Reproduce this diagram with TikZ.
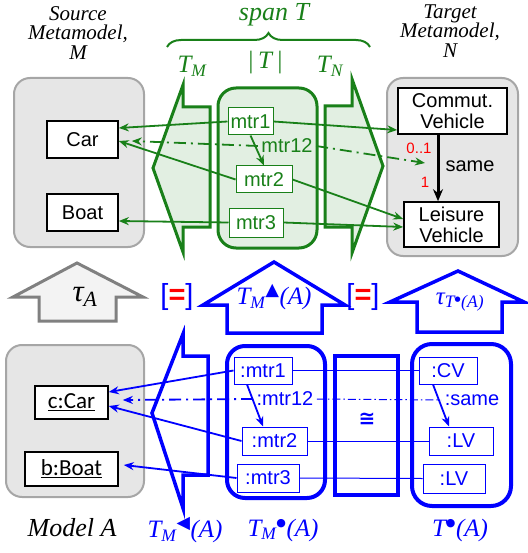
\documentclass[tikz,border=0pt]{standalone}
\usepackage{fontspec}
\setmainfont{Liberation Serif}
\setsansfont{Liberation Sans}
\newfontfamily\calibfont{Carlito}
\newfontfamily\dejavu{DejaVu Sans}
\usetikzlibrary{arrows.meta,decorations.pathreplacing}

\definecolor{tgreen}{RGB}{25,128,25}
\definecolor{tgreenfill}{RGB}{226,239,226}
\definecolor{mmfill}{RGB}{230,230,230}
\definecolor{mmline}{RGB}{166,166,166}
\definecolor{tblue}{RGB}{0,0,255}
\definecolor{upgrey}{RGB}{128,128,128}
\definecolor{upfill}{RGB}{243,243,243}

\newcommand{\sansfs}{\sffamily\fontsize{20}{21}\selectfont}
\newcommand{\multfs}{\sffamily\fontsize{15}{15}\selectfont}
\newcommand{\calibfs}{\calibfont\fontsize{23}{23}\selectfont}
\newcommand{\headfs}{\itshape\fontsize{21}{19.5}\selectfont}
\newcommand{\bigitfs}{\itshape\fontsize{26}{26}\selectfont}
\newcommand{\lblfs}{\itshape\fontsize{25}{26}\selectfont}
\newcommand{\symb}[1]{{\dejavu\upshape #1}}
\newcommand{\bdot}[1]{{\dejavu\upshape\fontsize{#1}{#1}\selectfont ●}}
\newcommand{\eqbr}{{\color{tblue}[}{\color{red}\bfseries=}{\color{tblue}]}}

\begin{document}
\begin{tikzpicture}[x=1pt, y=-1pt, >={Stealth[length=10pt,width=8pt]},
  mm/.style={draw=mmline, fill=mmfill, line width=2, rounded corners=16},
  cls/.style={draw, line width=1.6, fill=white, inner sep=0, font=\sansfs, align=center},
  obj/.style={draw, line width=1.6, fill=white, inner sep=0, font=\calibfs},
  gmap/.style={draw=tgreen, line width=1, fill=white, text=tgreen, inner sep=0, font=\sansfs},
  bmap/.style={draw=tblue, line width=1, fill=white, text=tblue, inner sep=0, font=\sansfs},
  glink/.style={tgreen, line width=1.8, ->},
  blink/.style={tblue, line width=1.8, ->},
  bthin/.style={tblue, line width=1},
  dashdot/.style={dash pattern=on 12pt off 5pt on 2pt off 5pt},
  garrow/.style={draw=tgreen, fill=tgreenfill, line width=3},
  barrow/.style={draw=tblue, line width=3.5},
  lbl/.style={font=\lblfs},
  eqsign/.style={font=\sffamily\fontsize{29}{29}\selectfont}]
  \useasboundingbox (0,0) rectangle (527,553);

  % Headings
  \node[font=\headfs, align=center] (srcmm) at (78,33) {Source\\Metamodel,\\M};
  \node[font=\headfs, align=center] (tgtmm) at (450,31) {Target\\Metamodel,\\N};
  \node[tgreen, font=\bigitfs] (span) at (274,15) {span T};
  \draw[tgreen, line width=2, decorate, decoration={brace, amplitude=14pt}] (167,47) -- (370,47);
  \node[tgreen, lbl] (tm) at (192,66) {T\textsubscript{M}};
  \node[tgreen, lbl] (tt) at (265,63) {|\,T\,|};
  \node[tgreen, lbl] (tn) at (330,66) {T\textsubscript{N}};

  % Metamodels and span
  \draw[mm] (14,78) rectangle (144,247);
  \draw[mm] (387,78) rectangle (518,256);
  \draw[garrow] (183,85) -- (183,107) -- (210,107) -- (210,227) -- (183,227) -- (183,252) -- (153,168) -- cycle;
  \draw[garrow] (325,106) -- (352,106) -- (352,79) -- (383,166) -- (352,253) -- (352,227) -- (325,227) -- cycle;
  \draw[draw=tgreen, fill=tgreenfill, line width=3, rounded corners=18] (218,88) rectangle (317,248);

  \node[cls, minimum width=71pt, minimum height=37pt] (car) at (82.5,139.5) {Car};
  \node[cls, minimum width=71pt, minimum height=37pt] (boat) at (82.5,212.5) {Boat};
  \node[cls, minimum width=109pt, minimum height=46pt] (cv) at (452.5,111) {Commut.\\Vehicle};
  \node[cls, minimum width=95pt, minimum height=45pt] (lv) at (451.5,224.5) {Leisure\\Vehicle};
  \node[gmap, minimum width=45pt, minimum height=27pt] (mtr1) at (250.5,121.5) {mtr1};
  \node[gmap, minimum width=56pt, minimum height=27pt] (mtr2) at (264,179.5) {mtr2};
  \node[gmap, minimum width=54pt, minimum height=29pt] (mtr3) at (256,222.5) {mtr3};
  \node[text=tgreen, font=\sansfs] (mtr12) at (287,146) {mtr12};

  % same association
  \coordinate (s1) at ([xshift=-14.5pt]cv.south);
  \coordinate (s2) at ([xshift=-13.5pt]lv.north);
  \coordinate (smid) at (438,163);
  \draw[line width=3, -{Stealth[length=12pt,width=10pt]}] (s1) -- (s2);
  \node[font=\sansfs, anchor=west] (same) at (442,166) {same};
  \node[red, font=\multfs] (m01) at (419,148) {0..1};
  \node[red, font=\multfs] (m1) at (425,182) {1};

  % Mappings
  \draw[glink] (mtr1.west) -- ([yshift=11.5pt]car.east);
  \draw[glink] (mtr1.east) -- ([yshift=-19pt]cv.west);
  \draw[glink] (mtr2.west) -- ([yshift=-1.5pt]car.east);
  \draw[glink] (mtr2.east) -- ([yshift=5.5pt]lv.west);
  \draw[glink] (mtr3.west) -- ([yshift=-8.5pt]boat.east);
  \draw[glink] (mtr3.east) -- ([yshift=-2.5pt]lv.west);
  \draw[glink] (mtr1.south) -- (mtr2.north);
  \draw[glink, dashdot] (mtr12.west) -- ([xshift=13pt,yshift=-1.5pt]car.east);
  \draw[glink, dashdot] (mtr12.east) -- ([xshift=-13pt]smid);

  % Middle row
  \draw[draw=upgrey, fill=upfill, line width=3] (77,263) -- (143,297) -- (116,297) -- (116,321) -- (39,321) -- (39,297) -- (13,297) -- cycle;
  \node[font=\itshape\fontsize{31}{31}\selectfont] (tauA) at (85,297) {τ\textsubscript{A}};
  \node[eqsign] (eq1) at (177,297) {\eqbr};
  \draw[barrow] (274,262) -- (345,305) -- (322,305) -- (322,333) -- (227,333) -- (227,305) -- (203,305) -- cycle;
  \node[tblue, lbl] (tmup) at (274,297) {T\textsubscript{M}\textsuperscript{\symb{▲}}(A)};
  \node[eqsign] (eq2) at (363,297) {\eqbr};
  \draw[barrow] (458,271) -- (524,302) -- (502,302) -- (502,332) -- (417,332) -- (417,302) -- (390,302) -- cycle;
  \node[tblue, lbl] (taut) at (460,302) {τ\textsubscript{T\textsuperscript{\bdot{7}}(A)}};

  % Model A and its image
  \draw[mm] (6,345) rectangle (144,497);
  \node[obj, minimum width=73pt, minimum height=33pt] (ccar) at (71.5,402.5) {\underline{c:Car}};
  \node[obj, minimum width=93pt, minimum height=34pt] (bboat) at (71.5,469) {\underline{b:Boat}};
  \draw[barrow] (183,334) -- (183,356) -- (208,356) -- (208,475) -- (183,475) -- (183,508) -- (152,413) -- cycle;
  \draw[tblue, line width=4, rounded corners=18] (227,346) rectangle (325,498);
  \draw[tblue, line width=4] (335,356) rectangle (398,495);
  \draw[tblue, line width=4, rounded corners=20] (412,344) rectangle (511,506);
  \node[tblue, font=\dejavu\bfseries\fontsize{20}{20}\selectfont] (iso) at (367,419) {≅};

  \node[bmap, minimum width=58pt, minimum height=27pt] (om1) at (263,370.5) {:mtr1};
  \node[bmap, minimum width=65pt, minimum height=28pt] (om2) at (274.5,441) {:mtr2};
  \node[bmap, minimum width=62pt, minimum height=28pt] (om3) at (268,478) {:mtr3};
  \node[tblue, font=\sansfs] (om12) at (285,399) {:mtr12};
  \node[bmap, minimum width=58pt, minimum height=27pt] (ocv) at (448,370.5) {:CV};
  \node[bmap, minimum width=64pt, minimum height=28pt] (olv1) at (461,441) {:LV};
  \node[bmap, minimum width=62pt, minimum height=29pt] (olv2) at (454,478.5) {:LV};
  \node[tblue, font=\sansfs] (osame) at (472,400) {:same};

  \draw[bthin] (om1.east) -- (ocv.west);
  \draw[bthin] (om2.east) -- (olv1.west);
  \draw[bthin] (om3.east) -- (olv2.west);
  \draw[bthin, dash pattern=on 8pt off 3pt on 1.5pt off 3pt] (om12.east) -- (osame.west);
  \draw[blink] (om1.west) -- ([yshift=10.5pt]ccar.east);
  \draw[blink] (om2.west) -- ([yshift=-3.5pt]ccar.east);
  \draw[blink, dashdot] (om12.west) -- ([xshift=14pt,yshift=2.5pt]ccar.east);
  \draw[blink] (om3.west) -- ([xshift=5pt,yshift=4pt]bboat.east);
  \draw[blink] ([xshift=-16pt]om1.south) -- ([xshift=-11.5pt]om2.north);
  \draw[blink] ([xshift=-15pt]ocv.south) -- ([xshift=-12pt]olv1.north);

  % Bottom labels
  \node[font=\bigitfs] (modelA) at (72,528) {Model A};
  \node[tblue, lbl] (tmleft) at (185,530) {T\textsubscript{M}\textsuperscript{\symb{◀}}(A)};
  \node[tblue, lbl] (tmdot) at (283,530) {T\textsubscript{M}\textsuperscript{\bdot{11}}(A)};
  \node[tblue, lbl] (tdot) at (460,530) {T\textsuperscript{\bdot{11}}(A)};
\end{tikzpicture}
\end{document}
